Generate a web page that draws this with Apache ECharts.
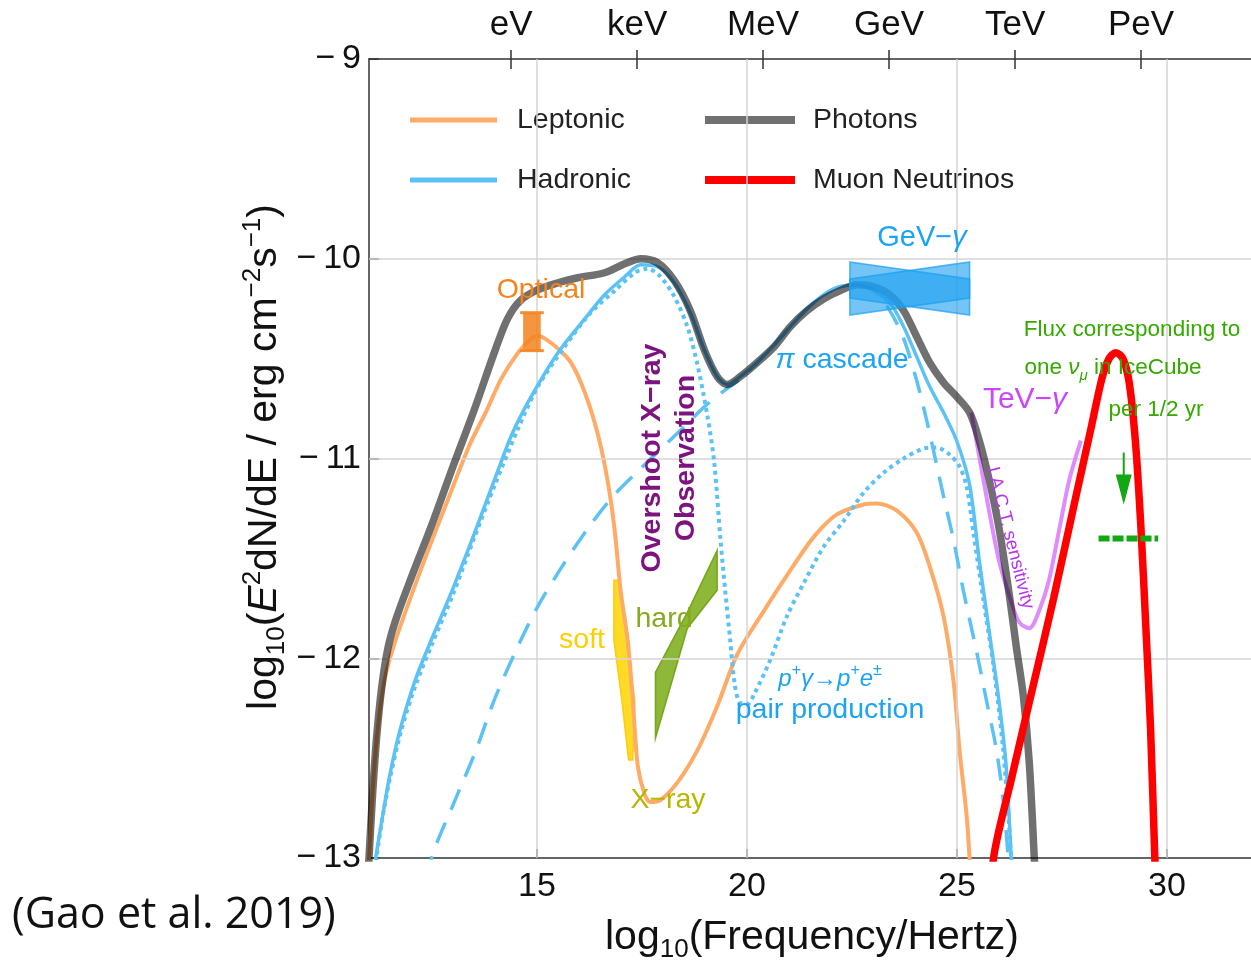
<!DOCTYPE html>
<html>
<head>
<meta charset="utf-8">
<script src="https://cdn.jsdelivr.net/npm/echarts@6/dist/echarts.min.js"></script>
<style>
  html, body { margin: 0; padding: 0; background: #ffffff; }
  #chart { width: 1251px; height: 961px; }
</style>
</head>
<body>
<div id="chart"></div>
<script>
// ---- Axis ticks ----
const freqTicks = [15, 20, 25, 30];
const fluxTicks = [-13, -12, -11, -10, -9];
const energyTicks = [14.383, 17.383, 20.383, 23.383, 26.383, 29.383];
const energyLabels = ['eV', 'keV', 'MeV', 'GeV', 'TeV', 'PeV'];

// ---- Model spectra: [log10(nu/Hz), log10(E^2 dN/dE)] ----
const leptonic = [
  [10.98,-13.05],[11.0,-13.0],[11.1,-12.62],[11.22,-12.33],[11.38,-12.1],[11.6,-11.93],[12.0,-11.69],
  [12.5,-11.41],[13.0,-11.14],[13.4,-10.93],[13.8,-10.76],[14.15,-10.6],[14.55,-10.47],[14.86,-10.40],
  [15.02,-10.385],[15.19,-10.40],[15.50,-10.45],[15.81,-10.52],[16.14,-10.67],[16.45,-10.88],
  [16.68,-11.11],[16.85,-11.36],[16.99,-11.66],[17.16,-11.91],[17.28,-12.21],[17.40,-12.54],
  [17.56,-12.68],[17.70,-12.72],[17.94,-12.71],[18.35,-12.62],[18.82,-12.46],[19.29,-12.24],
  [19.77,-11.98],[20.41,-11.76],[21.03,-11.56],[21.60,-11.39],[22.14,-11.28],[22.78,-11.23],
  [23.09,-11.225],[23.56,-11.26],[24.04,-11.37],[24.35,-11.54],[24.68,-11.79],[24.92,-12.12],
  [25.06,-12.46],[25.23,-12.79],[25.30,-13.0],[25.33,-13.1]
];
const hadronic = [
  [11.12,-13.1],[11.16,-13.0],[11.3,-12.82],[11.5,-12.58],[11.75,-12.35],[12.1,-12.11],[12.5,-11.9],
  [13.0,-11.65],[13.5,-11.38],[14.0,-11.1],[14.4,-10.88],[14.86,-10.69],[15.50,-10.47],[16.14,-10.30],
  [16.61,-10.18],[17.09,-10.09],[17.47,-10.03],[17.87,-10.04],[18.27,-10.12],[18.65,-10.27],[18.99,-10.46],
  [19.29,-10.59],[19.53,-10.63],[19.84,-10.59],[20.24,-10.52],[20.65,-10.43],[21.03,-10.34],
  [21.43,-10.25],[21.83,-10.18],[22.21,-10.14],[22.62,-10.13],[23.02,-10.16],[23.40,-10.22],
  [23.73,-10.34],[24.04,-10.49],[24.35,-10.64],[24.68,-10.77],[24.99,-10.91],[25.30,-11.13],
  [25.53,-11.51],[25.77,-11.87],[26.01,-12.23],[26.17,-12.54],[26.29,-13.0],[26.31,-13.1]
];
const pairProduction = [
  [11.14,-13.1],[11.18,-13.0],[11.32,-12.8],[11.5,-12.6],[11.77,-12.36],[12.1,-12.14],[12.5,-11.93],
  [13.0,-11.68],[13.5,-11.4],[14.0,-11.13],[14.55,-10.85],[15.02,-10.64],[15.66,-10.44],[16.28,-10.27],
  [16.85,-10.16],[17.33,-10.07],[17.63,-10.05],[17.94,-10.09],[18.27,-10.19],[18.58,-10.34],[18.82,-10.53],
  [19.06,-10.79],[19.22,-11.02],[19.37,-11.41],[19.48,-11.66],[19.60,-11.91],[19.70,-12.12],
  [19.82,-12.22],[20.01,-12.23],[20.17,-12.18],[20.55,-12.01],[20.95,-11.79],[21.36,-11.62],
  [21.83,-11.44],[22.31,-11.31],[22.78,-11.17],[23.26,-11.07],[23.73,-11.0],[24.21,-10.95],
  [24.51,-10.945],[24.82,-10.98],[25.06,-11.04],[25.23,-11.14],[25.39,-11.37],[25.63,-11.71],
  [25.87,-12.04],[26.10,-12.46],[26.25,-12.87],[26.29,-13.0],[26.31,-13.1]
];
const pionCascade = [
  [12.45,-13.1],[12.49,-13.0],[13.05,-12.71],[13.53,-12.47],[14.00,-12.2],[14.48,-11.97],[15.02,-11.74],
  [15.66,-11.52],[16.28,-11.33],[16.85,-11.18],[17.47,-11.05],[18.11,-10.92],[18.51,-10.84],
  [18.99,-10.74],[19.46,-10.66],[19.84,-10.60],[20.24,-10.52],[20.65,-10.43],[21.03,-10.34],
  [21.43,-10.25],[21.83,-10.18],[22.21,-10.14],[22.62,-10.13],[23.02,-10.16],[23.40,-10.26],
  [23.73,-10.40],[24.04,-10.61],[24.28,-10.81],[24.44,-10.96],[24.68,-11.19],[24.92,-11.41],
  [25.15,-11.66],[25.46,-11.96],[25.70,-12.21],[25.94,-12.46],[26.10,-12.71],[26.22,-13.0],[26.24,-13.1]
];
const photons = [
  [10.97,-13.1],[11.0,-13.0],[11.08,-12.7],[11.18,-12.4],[11.3,-12.15],[11.45,-11.95],[11.65,-11.8],
  [12.0,-11.6],[12.5,-11.33],[13.0,-11.04],[13.5,-10.76],[14.0,-10.46],[14.3,-10.3],[14.6,-10.21],
  [15.02,-10.155],[15.50,-10.12],[15.97,-10.095],[16.61,-10.07],[17.09,-10.025],
  [17.47,-10.0],[17.87,-10.02],[18.27,-10.11],[18.65,-10.26],[18.99,-10.46],[19.29,-10.59],
  [19.53,-10.63],[19.84,-10.59],[20.24,-10.52],[20.65,-10.44],[21.03,-10.34],[21.43,-10.26],
  [21.83,-10.20],[22.21,-10.16],[22.62,-10.13],[23.02,-10.14],[23.40,-10.18],[23.73,-10.26],
  [24.04,-10.39],[24.35,-10.52],[24.68,-10.62],[24.99,-10.69],[25.30,-10.77],[25.53,-10.91],
  [25.77,-11.11],[26.01,-11.36],[26.25,-11.69],[26.41,-11.94],[26.58,-12.19],[26.72,-12.52],
  [26.84,-13.0],[26.86,-13.1]
];
const muonNeutrinos = [
  [25.85,-13.1],[25.87,-13.0],[26.3,-12.6],[26.8,-12.15],[27.3,-11.7],[27.8,-11.22],[28.2,-10.84],
  [28.45,-10.6],[28.62,-10.5],[28.78,-10.47],[28.95,-10.5],[29.1,-10.62],[29.25,-10.92],
  [29.38,-11.35],[29.5,-11.86],[29.61,-12.36],[29.71,-13.0],[29.73,-13.1]
];
const iactSensitivity = [
  [25.34,-10.77],[25.53,-10.99],[25.77,-11.27],[26.01,-11.52],[26.25,-11.69],[26.48,-11.82],
  [26.72,-11.85],[26.96,-11.76],[27.19,-11.61],[27.43,-11.36],[27.67,-11.11],[27.95,-10.91]
];

// ---- Observations ----
const opticalBox = { x: [14.67, 15.09], y: [-10.27, -10.46] };
const softXray = [[16.83,-11.61],[16.95,-11.61],[17.16,-11.96],[17.33,-12.21],[17.28,-12.51],
  [17.18,-12.51],[17.02,-12.21],[16.83,-11.91]];
const hardXray = [[17.82,-12.07],[18.58,-11.77],[19.29,-11.46],[19.29,-11.66],[18.58,-11.85],[17.82,-12.40]];
const gevBowA = [[22.45,-10.016],[25.30,-10.101],[25.30,-10.282],[22.45,-10.197]];
const gevBowB = [[22.45,-10.101],[25.30,-10.016],[25.30,-10.197],[22.45,-10.282]];
const iceCubeLevel = [[28.37,-11.40],[29.79,-11.40]];
const iceCubeArrow = [[28.97,-10.97],[28.97,-11.12]];
const iceCubeArrowHead = [[28.97,-11.23],[28.78,-11.08],[29.16,-11.08]];

// ---- Colours / fonts ----
const C_LEP = '#fdab66';
const C_HAD = '#5cc2f5';
const C_PHO = 'rgba(0,0,0,0.56)';
const C_NU = '#ff0000';
const C_TEV = 'rgba(216,120,255,0.85)';
const FONT = "'Liberation Sans', Arial, sans-serif";

const chart = echarts.init(document.getElementById('chart'), null, { renderer: 'canvas' });

function curve(name, data, color, width, type, z) {
  return {
    name, type: 'line', data, smooth: 0.3, symbol: 'none', showSymbol: false, z,
    lineStyle: { color, width, type: type || 'solid', cap: 'butt' },
    silent: true
  };
}
function polygon(name, pts, fill, stroke, z) {
  return {
    name, type: 'custom', z, silent: true,
    data: [pts[0]],
    renderItem: (params, api) => ({
      type: 'polygon',
      shape: { points: pts.map(p => api.coord(p)) },
      style: { fill, stroke: stroke || 'none', lineWidth: stroke ? 1.5 : 0 }
    })
  };
}
function fmtMinus(v) { return v < 0 ? '\u2212\u2009' + Math.abs(v) : String(v); }
function label(x, y, text, size, color, extra) {
  return Object.assign({
    type: 'text', x, y, z: 20,
    style: Object.assign({ text, fontSize: size, fontFamily: FONT, fill: color, align: 'center', verticalAlign: 'middle' },
      (extra && extra.style) || {})
  }, extra && extra.rotation !== undefined ? { rotation: extra.rotation } : {});
}

const gridLines = freqTicks.map(v => ({ xAxis: v })).concat([-12, -11, -10].map(v => ({ yAxis: v })));

const option = {
  animation: false,
  backgroundColor: '#ffffff',
  grid: { left: 369, top: 59, width: 886, height: 799, containLabel: false },
  xAxis: [
    {
      type: 'value', position: 'bottom', min: 11, max: 32,
      axisLine: { show: true, onZero: false, lineStyle: { color: '#333', width: 1.5 } },
      axisTick: { show: true, inside: true, length: 9, customValues: freqTicks, lineStyle: { color: '#333', width: 1.5 } },
      axisLabel: { customValues: freqTicks, fontSize: 34, fontFamily: FONT, color: '#111', margin: 12 },
      splitLine: { show: false }
    },
    {
      type: 'value', position: 'top', min: 11, max: 32,
      axisLine: { show: true, onZero: false, lineStyle: { color: '#333', width: 1.5 } },
      axisTick: { show: true, inside: false, length: 9, customValues: energyTicks, lineStyle: { color: '#333', width: 1.5 } },
      axisLabel: {
        customValues: energyTicks, fontSize: 35, fontFamily: FONT, color: '#111', margin: 16,
        formatter: v => {
          let best = 0;
          energyTicks.forEach((t, i) => { if (Math.abs(t - v) < Math.abs(energyTicks[best] - v)) best = i; });
          return energyLabels[best];
        }
      },
      splitLine: { show: false }
    },
    {
      type: 'value', position: 'top', min: 11, max: 32,
      axisLine: { show: false },
      axisTick: { show: true, inside: true, length: 10, customValues: energyTicks, lineStyle: { color: '#333', width: 1.5 } },
      axisLabel: { show: false },
      splitLine: { show: false }
    }
  ],
  yAxis: {
    type: 'value', min: -13, max: -9, interval: 1,
    axisLine: { show: true, onZero: false, lineStyle: { color: '#333', width: 1.5 } },
    axisTick: { show: true, inside: true, length: 10, lineStyle: { color: '#333', width: 1.5 } },
    axisLabel: { fontSize: 34, fontFamily: FONT, color: '#111', margin: 8, formatter: fmtMinus },
    splitLine: { show: false }
  },
  series: [
    {
      name: 'grid', type: 'line', data: [[11, -13]], symbol: 'none', z: 1, silent: true,
      lineStyle: { opacity: 0 },
      markLine: {
        silent: true, symbol: ['none', 'none'], label: { show: false },
        lineStyle: { color: '#d4d4d4', width: 1.5, type: 'solid' },
        data: gridLines
      }
    },
    polygon('soft X-ray', softXray, 'rgba(255,212,0,0.85)', 'rgba(255,200,0,0.9)', 3),
    polygon('hard X-ray', hardXray, 'rgba(122,172,20,0.85)', 'rgba(110,160,20,0.9)', 3),
    curve('Leptonic', leptonic, C_LEP, 4, 'solid', 4),
    curve('Hadronic', hadronic, C_HAD, 3.5, 'solid', 5),
    curve('pair production', pairProduction, C_HAD, 4, [4, 4], 5),
    curve('pi cascade', pionCascade, C_HAD, 3.5, [22, 14], 5),
    {
      name: 'Optical', type: 'custom', z: 6, silent: true, data: [[opticalBox.x[0], opticalBox.y[0]]],
      renderItem: (params, api) => {
        const p1 = api.coord([opticalBox.x[0], opticalBox.y[0]]);
        const p2 = api.coord([opticalBox.x[1], opticalBox.y[1]]);
        return {
          type: 'group', children: [
            { type: 'rect', shape: { x: p1[0], y: p1[1], width: p2[0] - p1[0], height: p2[1] - p1[1] },
              style: { fill: 'rgba(245,130,30,0.85)' } },
            { type: 'line', shape: { x1: p1[0] - 3, y1: p1[1], x2: p2[0] + 3, y2: p1[1] },
              style: { stroke: 'rgba(245,130,30,0.9)', lineWidth: 3 } },
            { type: 'line', shape: { x1: p1[0] - 3, y1: p2[1], x2: p2[0] + 3, y2: p2[1] },
              style: { stroke: 'rgba(245,130,30,0.9)', lineWidth: 3 } }
          ]
        };
      }
    },
    curve('TeV sensitivity', iactSensitivity, C_TEV, 4, 'solid', 6),
    curve('Photons', photons, C_PHO, 7.5, 'solid', 7),
    polygon('GeV A', gevBowA, 'rgba(30,160,240,0.62)', 'rgba(30,160,240,0.75)', 8),
    polygon('GeV B', gevBowB, 'rgba(30,160,240,0.62)', 'rgba(30,160,240,0.75)', 8),
    curve('Muon Neutrinos', muonNeutrinos, C_NU, 7.5, 'solid', 9),
    {
      name: 'IceCube level', type: 'line', data: iceCubeLevel, symbol: 'none', z: 9, silent: true,
      lineStyle: { color: '#13a813', width: 6, type: [11, 3], cap: 'butt' }
    },
    {
      name: 'IceCube arrow', type: 'line', data: iceCubeArrow, symbol: 'none', z: 9, silent: true,
      lineStyle: { color: '#13a813', width: 2 }
    },
    polygon('IceCube arrow head', iceCubeArrowHead, '#13a813', null, 9)
  ],
  graphic: [
    // legend
    { type: 'line', shape: { x1: 410, y1: 120, x2: 497, y2: 120 }, style: { stroke: C_LEP, lineWidth: 5 } },
    { type: 'line', shape: { x1: 410, y1: 180, x2: 497, y2: 180 }, style: { stroke: C_HAD, lineWidth: 5 } },
    { type: 'line', shape: { x1: 705, y1: 120, x2: 795, y2: 120 }, style: { stroke: '#717171', lineWidth: 8 } },
    { type: 'line', shape: { x1: 705, y1: 180, x2: 795, y2: 180 }, style: { stroke: C_NU, lineWidth: 8 } },
    { type: 'text', x: 517, y: 120, style: { text: 'Leptonic', fontSize: 28.5, fontFamily: FONT, fill: '#222', verticalAlign: 'middle' } },
    { type: 'text', x: 517, y: 180, style: { text: 'Hadronic', fontSize: 28.5, fontFamily: FONT, fill: '#222', verticalAlign: 'middle' } },
    { type: 'text', x: 813, y: 120, style: { text: 'Photons', fontSize: 28.5, fontFamily: FONT, fill: '#222', verticalAlign: 'middle' } },
    { type: 'text', x: 813, y: 180, style: { text: 'Muon Neutrinos', fontSize: 28.5, fontFamily: FONT, fill: '#222', verticalAlign: 'middle' } },

    // annotations
    label(541, 290, 'Optical', 28.5, '#f7821b'),
    label(922, 238, 'GeV\u2212{i|\u03b3}', 29, '#1ca4f4', { style: { rich: { i: { fontSize: 29, fontStyle: 'italic', fontFamily: FONT, fill: '#1ca4f4' } } } }),
    label(842, 360, '{i|\u03c0} cascade', 28.5, '#1ca4f4', { style: { rich: { i: { fontSize: 28.5, fontStyle: 'italic', fontFamily: FONT, fill: '#1ca4f4' } } } }),
    label(830, 679, '{t|p}{s|+}{t|\u03b3\u2192p}{s|+}{t|e}{s|\u00b1}', 24, '#1ca4f4', { style: { rich: {
      t: { fontSize: 24, fontStyle: 'italic', fontFamily: FONT, fill: '#1ca4f4', lineHeight: 32 },
      s: { fontSize: 16, fontStyle: 'italic', fontFamily: FONT, fill: '#1ca4f4', verticalAlign: 'top', lineHeight: 32 }
    } } }),
    label(830, 710, 'pair production', 28.5, '#1ca4f4'),
    label(652, 458, 'Overshoot X\u2212ray', 28.5, '#7d137f', { rotation: Math.PI / 2, style: { fontWeight: 'bold' } }),
    label(686, 458, 'Observation', 28.5, '#7d137f', { rotation: Math.PI / 2, style: { fontWeight: 'bold' } }),
    label(582, 640, 'soft', 28.5, '#ffd000'),
    label(664, 619, 'hard', 28.5, '#86aa1e'),
    label(668, 800, 'X\u2212ray', 28.5, '#b9b500'),
    label(1025, 400, 'TeV\u2212{i|\u03b3}', 30, '#cc44ff', { style: { rich: { i: { fontSize: 30, fontStyle: 'italic', fontFamily: FONT, fill: '#cc44ff' } } } }),
    label(1010, 538, 'I.A.C.T. sensitivity', 18.5, '#b833ee', { rotation: -1.32 }),
    label(1132, 330, 'Flux corresponding to', 22.5, '#33aa00'),
    label(1113, 368, '{t|one }{i|\u03bd}{u|\u03bc}{t| in IceCube}', 22.5, '#33aa00', { style: { rich: {
      t: { fontSize: 22.5, fontFamily: FONT, fill: '#33aa00', lineHeight: 30 },
      i: { fontSize: 22.5, fontStyle: 'italic', fontFamily: FONT, fill: '#33aa00', lineHeight: 30 },
      u: { fontSize: 15, fontStyle: 'italic', fontFamily: FONT, fill: '#33aa00', verticalAlign: 'bottom', lineHeight: 30 }
    } } }),
    label(1156, 410, 'per 1/2 yr', 22.5, '#33aa00'),

    // axis titles
    { type: 'text', x: 812, y: 938, style: {
      text: '{t|log}{s|10}{t|(Frequency/Hertz)}', align: 'center', verticalAlign: 'middle',
      rich: {
        t: { fontSize: 41, fontFamily: FONT, fill: '#111', lineHeight: 50 },
        s: { fontSize: 26, fontFamily: FONT, fill: '#111', verticalAlign: 'bottom', lineHeight: 50 }
      } } },
    { type: 'text', x: 265, y: 457, rotation: Math.PI / 2, style: {
      text: '{t|log}{s|10}{t|(}{i|E}{p|2}{t|dN/dE / erg cm}{p|\u22122}{t|s}{p|\u22121}{t|)}', align: 'center', verticalAlign: 'middle',
      rich: {
        t: { fontSize: 41, fontFamily: FONT, fill: '#111', lineHeight: 50 },
        i: { fontSize: 41, fontStyle: 'italic', fontFamily: FONT, fill: '#111', lineHeight: 50 },
        s: { fontSize: 26, fontFamily: FONT, fill: '#111', verticalAlign: 'bottom', lineHeight: 50 },
        p: { fontSize: 26, fontFamily: FONT, fill: '#111', verticalAlign: 'top', lineHeight: 50 }
      } } },
    { type: 'text', x: 12, y: 916, style: { text: '(Gao et al. 2019)', fontSize: 43, fontFamily: "'Open Sans', 'Liberation Sans', sans-serif", fill: '#111', verticalAlign: 'middle' } }
  ]
};

chart.setOption(option);
</script>
</body>
</html>
